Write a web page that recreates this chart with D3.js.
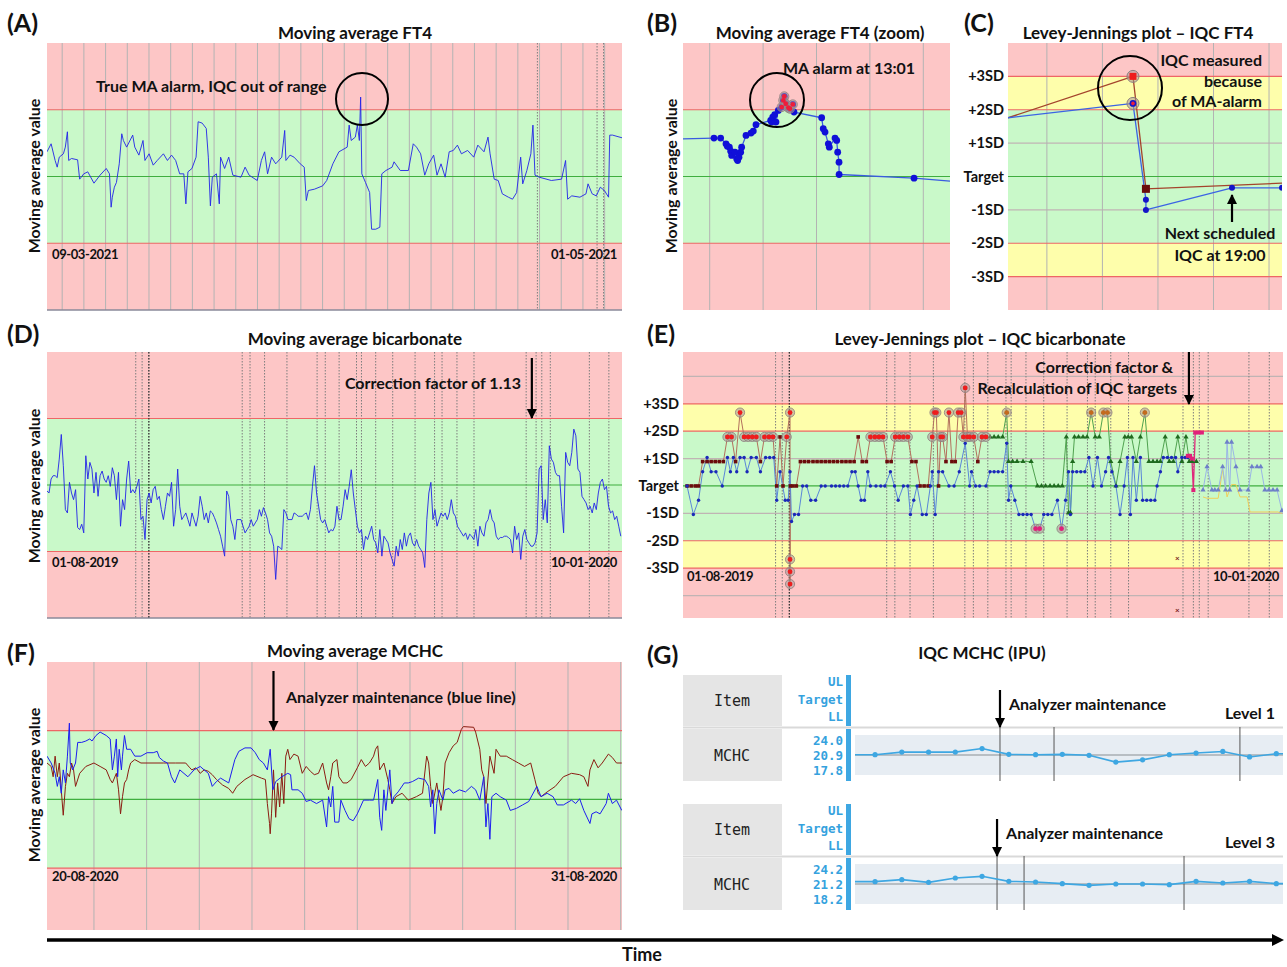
<!DOCTYPE html>
<html>
<head>
<meta charset="utf-8">
<script src="https://cdn.jsdelivr.net/npm/d3@7"></script>
<style>
  body { margin: 0; background: #fff; }
  svg text { font-family: Lato, "Open Sans", sans-serif; font-weight: bold; fill: #111; }
</style>
</head>
<body>
<svg id="fig" width="1287" height="967"></svg>
<script>
// ---------- data ----------
// (A) moving average FT4, [day since 09-03-2021, MA value relative to limits]
var ft4MA = [[0.0,0.37],[0.38,0.49],[0.75,0.24],[0.94,0.14],[1.13,0.29],[1.51,0.34],[1.69,0.44],[1.88,0.67],[2.0,0.24],[2.26,0.27],[2.82,0.25],[3.01,-0.04],[3.39,0.04],[3.76,0.07],[4.33,-0.1],[4.89,0.02],[5.46,0.12],[5.76,0.04],[5.91,-0.46],[6.02,-0.31],[6.21,-0.16],[6.4,-0.09],[6.66,0.19],[6.89,0.64],[7.04,0.54],[7.34,0.44],[7.9,0.62],[8.09,0.44],[8.47,0.32],[8.85,0.54],[9.03,0.24],[9.41,0.34],[9.79,0.17],[10.16,0.24],[10.73,0.34],[11.1,0.24],[11.48,0.32],[11.86,0.24],[12.23,0.04],[12.61,0.04],[12.8,-0.41],[12.99,0.07],[13.36,0.12],[13.74,0.29],[13.93,0.82],[14.3,0.8],[14.68,0.72],[14.87,0.29],[15.06,-0.44],[15.24,-0.01],[15.62,0.04],[15.88,-0.41],[16.0,0.29],[16.37,0.12],[16.75,0.29],[17.13,0.02],[17.88,-0.01],[18.26,0.14],[18.63,0.02],[19.38,-0.06],[19.76,0.24],[20.06,0.37],[20.33,0.04],[20.7,0.29],[21.08,0.19],[21.64,0.29],[21.91,0.69],[22.02,0.24],[22.4,0.32],[22.77,0.29],[23.34,0.19],[23.71,0.14],[23.9,-0.36],[24.09,-0.21],[24.65,-0.19],[25.41,-0.14],[25.78,-0.06],[26.35,0.19],[26.91,0.37],[27.67,0.44],[27.85,0.77],[28.04,0.54],[28.42,0.59],[28.61,0.77],[28.79,0.54],[28.91,1.19],[29.02,0.04],[29.36,-0.09],[29.74,-0.24],[29.92,-0.79],[30.3,-0.79],[30.68,-0.76],[30.86,0.04],[31.24,0.09],[31.81,0.14],[31.99,0.22],[32.56,0.09],[33.31,0.09],[33.76,0.49],[34.06,0.44],[34.44,0.34],[34.82,0.02],[35.19,0.19],[35.64,0.32],[35.95,0.02],[36.32,0.19],[36.7,-0.01],[37.07,0.37],[37.45,0.39],[37.83,0.47],[38.2,0.34],[38.77,0.39],[39.33,0.29],[39.71,0.47],[40.28,0.37],[40.65,0.59],[40.84,0.34],[41.22,-0.04],[41.59,-0.06],[41.97,-0.26],[42.53,-0.31],[42.91,-0.34],[43.29,-0.24],[43.66,0.29],[43.85,-0.11],[44.23,0.09],[44.6,0.34],[44.79,0.77],[44.98,0.02],[45.36,-0.01],[46.49,-0.06],[47.43,-0.04],[47.8,0.24],[47.99,-0.34],[48.37,-0.29],[49.12,-0.31],[49.68,-0.26],[49.87,-0.11],[50.25,-0.26],[50.63,-0.29],[51.0,-0.16],[51.38,-0.21],[51.76,-0.31],[51.87,0.62],[52.13,0.62],[53.0,0.58]];
var ft4Events = [45.2, 50.7, 51.3];

// (B) zoom, [minutes from start of window, MA value]
var ft4Zoom = [[0,0.565],[34.8,0.575],[42.3,0.575],[48.3,0.49],[49.8,0.455],[52.1,0.44],[53.6,0.38],[54.7,0.315],[58.4,0.365],[60.3,0.265],[61.4,0.24],[62.9,0.29],[64.8,0.365],[65.9,0.44],[70.8,0.615],[76.4,0.65],[79.0,0.68],[82.0,0.775],[98.5,0.84],[99.7,0.815],[100.8,0.89],[103.0,0.925],[104.5,0.815],[107.1,0.99],[110.9,1.04],[112.7,1.14],[113.8,1.2],[115.4,1.09],[118.4,1.03],[120.2,1.015],[123.3,1.08],[124.7,0.965],[155.8,0.88],[157.6,0.715],[159.6,0.665],[163.3,0.49],[164.4,0.44],[170.8,0.575],[172.7,0.54],[173.8,0.365],[175.3,0.215],[175.4,0.03],[259.6,-0.025],[300,-0.07]];

// (C) Levey-Jennings FT4, [hour of day, SD]
var ft4IqcLow  = [[6.9,1.76],[13.65,2.19],[14.35,-0.7],[14.35,-1.0],[19.0,-0.34],[21.7,-0.34]];
var ft4IqcHigh = [[6.9,1.76],[13.65,3.0],[14.35,-0.37],[21.7,-0.2]];

// (D) moving average bicarbonate, one value every 0.575 day from 01-08-2019
var bicStepDays = 0.5753;
var bicMA = [-0.09,-0.12,0.09,0.14,0.14,0.11,0.39,0.76,0.29,-0.37,
  -0.42,0.04,-0.12,-0.22,-0.07,-0.64,-0.67,-0.59,-0.72,0.44,
  0.09,0.34,0.24,-0.12,0.19,-0.17,0.14,0.21,0.09,0.04,
  0.14,-0.02,0.26,0.14,-0.22,0.19,-0.62,-0.22,-0.37,0.09,
  0.36,-0.12,-0.07,-0.12,-0.02,0.09,-0.52,-0.47,-0.82,-0.22,
  -0.12,-0.27,-0.07,-0.02,-0.22,-0.17,-0.37,-0.52,-0.32,-0.12,
  -0.17,0.04,-0.62,-0.37,0.24,-0.32,-0.52,-0.47,-0.42,-0.52,
  -0.62,-0.42,-0.52,-0.62,-0.47,-0.17,-0.32,-0.52,-0.42,-0.57,
  -0.39,-0.42,-0.49,-0.57,-0.67,-0.77,-0.92,-1.07,-0.09,-0.17,
  -0.52,-0.62,-0.82,-0.52,-0.52,-0.52,-0.62,-0.72,-0.67,-0.62,
  -0.52,-0.62,-0.57,-0.52,-0.37,-0.47,-0.34,-0.42,-0.52,-0.72,
  -0.77,-0.92,-1.42,-0.92,-0.94,-0.97,-0.37,-0.42,-0.52,-0.52,
  -0.52,-0.42,-0.44,-0.47,-0.47,-0.47,-0.44,-0.42,-0.52,-0.37,
  -0.02,0.29,-0.12,-0.32,-0.52,-0.57,-0.52,-0.62,-0.72,-0.67,
  -0.69,-0.62,-0.32,-0.52,-0.52,-0.32,-0.07,-0.22,-0.02,0.23,
  -0.12,-0.37,-0.62,-0.72,-0.67,-0.97,-0.77,-0.82,-0.72,-0.62,
  -0.82,-0.87,-1.02,-0.67,-1.07,-0.77,-0.82,-0.87,-1.02,-1.12,
  -1.22,-0.92,-1.07,-0.82,-0.97,-0.72,-0.92,-0.77,-0.72,-0.87,
  -0.92,-0.82,-0.92,-0.97,-1.02,-1.24,-0.52,-0.12,0.04,-0.52,
  -0.37,-0.62,-0.52,-0.42,-0.47,-0.42,-0.52,-0.42,-0.22,-0.42,
  -0.47,-0.62,-0.67,-0.72,-0.77,-0.72,-0.82,-0.74,-0.77,-0.82,
  -0.67,-0.92,-0.62,-0.72,-0.77,-0.57,-0.52,-0.37,-0.52,-0.57,
  -0.77,-0.82,-0.79,-0.79,-0.77,-0.77,-0.79,-0.82,-1.02,-0.62,
  -0.82,-0.72,-1.12,-0.77,-0.67,-0.82,-0.87,-0.92,-0.92,-0.87,
  -0.72,0.24,0.29,-0.52,-0.22,-0.57,0.59,0.39,0.34,0.19,
  0.14,0.14,-0.32,-0.72,0.49,0.34,0.29,0.49,0.84,0.74,
  0.24,0.19,-0.17,-0.22,-0.27,-0.37,-0.32,-0.42,-0.27,-0.37,
  -0.12,0.04,0.09,-0.07,-0.02,-0.32,-0.42,-0.39,-0.52,-0.47,
  -0.62,-0.77];
// events (days from 01-08-2019) shared by D and E
var bicEvents = [25, 26.8, 28.7, 55, 57.2, 61.3, 67.6, 76.1, 78.4, 82.3, 87.2, 88.6, 92.6, 97.4, 103.7, 109.2, 111.3, 115.5, 120.3, 135, 137.8, 139.4, 141.8, 152.8, 158.3];
var bicCorrectionDay = 136.6;

// (E) Levey-Jennings bicarbonate, [day, SD]
var bicIqcLow = [[1.1,0],[2.8,-1.04],[4.2,-0.52],[5.3,0.52],[6.5,1.04],[7.6,0.52],[8.9,0.52],[10.6,0],[12.0,1.04],[12.8,0.52],[13.6,1.04],[14.5,0.52],[15.4,1.04],[16.5,1.04],[17.3,0.52],[18.4,1.04],[19.8,1.04],[20.9,0.52],[22.3,1.04],[23.4,1.04],[24.5,1.04],[25.3,-0.52],[26.2,0.52],[27.6,-0.52],[28.4,-0.52],[28.9,0.52],[29.3,-1.3],[30.1,-1.04],[31.2,-1.04],[32.3,0],[33.4,0],[34.5,-0.52],[35.8,-0.52],[37.3,0],[38.4,0],[40.1,0],[41.2,0],[42.3,0],[43.4,0],[44.5,0],[45.6,0.52],[46.5,0.52],[47.3,0],[48.1,-0.52],[49.0,-0.52],[49.9,0.52],[50.6,0],[52.1,0],[53.4,0],[54.5,0],[56.0,0.52],[57.1,0],[58.1,-0.52],[59.5,0],[60.7,0],[61.4,-1.04],[62.3,-0.52],[63.2,0],[64.6,-1.04],[65.7,-1.04],[66.8,0],[67.3,0.52],[68.1,-1.04],[69.0,0.52],[70.1,0.52],[71.8,0],[73.2,0],[74.6,0.52],[76.2,1.56],[77.4,0],[77.9,0.52],[79.0,0],[80.1,0],[81.8,0],[82.9,0.52],[84.0,0.52],[85.1,0.52],[86.3,0.52],[87.4,1.56],[87.9,-0.52],[88.5,0],[89.6,-0.52],[90.7,-1.04],[91.8,-1.04],[92.9,-1.04],[94.0,-1.04],[95.2,-1.56],[96.3,-1.56],[97.4,-1.04],[98.5,-1.04],[99.6,-1.04],[101.1,-0.52],[102.2,-1.56],[103.3,-0.52],[104.1,0.52],[104.6,-1.04],[105.2,0.52],[106.3,0.52],[107.4,0.52],[108.5,0.52],[109.6,1.04],[110.7,0],[111.9,1.04],[113.0,0],[114.1,0.52],[114.9,1.04],[115.8,0.52],[116.9,0],[118.0,-1.04],[119.1,0],[120.0,1.04],[120.8,-1.04],[121.5,1.04],[122.4,-0.52],[123.5,1.04],[124.1,-0.52],[125.2,-0.52],[126.3,-0.52],[127.4,-0.52],[128.0,0],[128.9,0.52],[129.7,1.04],[130.8,1.04],[131.9,1.04],[133.0,1.04],[133.6,0.52],[134.7,1.04],[135.6,1.04],[136.3,1.04]];
var bicIqcHigh = [[1.1,0],[2.2,0],[3.3,0],[4.2,0],[5.3,0.89],[6.5,0.89],[7.6,0.89],[8.7,0.89],[9.8,0.89],[10.9,0.89],[12.0,1.79],[13.1,1.79],[14.2,0.89],[15.4,2.68],[16.5,1.79],[17.6,1.79],[18.7,1.79],[19.8,1.79],[20.9,0.89],[22.0,1.79],[23.2,1.79],[24.3,1.79],[25.3,0],[26.2,1.79],[27.0,0],[28.0,1.79],[28.9,2.68],[28.9,-2.68],[28.9,-3.13],[28.9,-3.58],[29.0,0],[29.7,0],[30.6,0],[31.7,0.89],[32.8,0.89],[33.9,0.89],[35.1,0.89],[36.2,0.89],[37.3,0.89],[38.4,0.89],[39.5,0.89],[40.6,0.89],[41.7,0.89],[42.9,0.89],[44.0,0.89],[45.1,0.89],[46.2,0.89],[47.3,1.79],[48.4,0.89],[49.5,0.89],[50.6,1.79],[51.8,1.79],[52.9,1.79],[54.0,1.79],[55.1,0.89],[56.2,0.89],[57.3,1.79],[58.4,1.79],[59.5,1.79],[60.7,1.79],[61.8,0.89],[62.9,0.89],[64.0,0],[65.1,0],[66.2,0],[67.3,1.79],[67.9,2.68],[68.4,2.68],[69.0,0],[69.6,1.79],[70.1,1.79],[71.0,0.89],[71.8,2.68],[72.6,0.89],[73.5,0.89],[74.3,2.68],[75.1,2.68],[75.7,1.79],[76.2,3.58],[76.8,1.79],[77.4,1.79],[78.5,1.79],[79.6,0.89],[80.7,1.79],[81.8,1.79]];
var bicIqcHigh2 = [[82.9,1.79],[84.0,1.79],[85.1,1.79],[86.3,1.79],[87.4,2.68],[87.9,0.89],[89.0,0.89],[90.2,0.89],[91.8,0.89],[94.0,0.89],[95.7,0],[96.8,0],[97.9,0],[99.1,0],[100.2,0],[101.3,0],[102.4,0],[103.5,1.79],[104.1,-0.98],[104.6,-0.98],[105.2,0.89],[105.7,1.79],[106.8,1.79],[108.0,1.79],[109.1,1.79],[110.2,2.68],[111.3,1.79],[112.4,1.79],[113.5,2.68],[114.6,2.68],[115.5,0.89],[116.9,0],[118.0,0.89],[119.3,1.79],[120.2,1.79],[121.1,1.79],[122.4,0.89],[123.5,1.79],[124.7,2.68],[125.8,0.89],[126.9,0.89],[128.0,0.89],[128.9,0.89],[130.2,1.79],[131.3,0.89],[132.4,0.89],[133.6,1.79],[134.7,0.89],[135.8,1.79],[136.7,0.89],[137.4,0.89],[138.6,0.89]];
var bicIqcNew = [[136.3,1.1],[136.9,1.1],[137.4,1.0],[137.8,-0.15],[138.3,1.95],[139.2,1.95],[140.1,1.95]];
var bicIqcAfter = [[140.4,-0.15],[141.5,0.7],[142.8,-0.15],[143.6,-0.15],[144.5,-0.15],[145.7,0.7],[146.5,-0.15],[146.9,1.6],[147.6,-0.15],[148.1,1.6],[149.3,0.7],[150.4,-0.15],[152.6,-0.15],[153.6,0.7],[155.0,0.7],[156.0,0.7],[157.1,-0.15],[158.2,-0.15],[159.3,-0.15],[160.4,-0.15],[161.7,-0.9]];
var bicIqcAfter2 = [[140.4,-0.4],[141.5,-0.45],[144.5,-0.45],[145.7,0.6],[146.9,-0.4],[148.1,0.05],[149.3,0.05],[150.4,-0.4],[152.3,-0.4],[153.1,-0.95],[160.6,-0.95],[161.7,-1.0]];
var bicRejected = [[133.5,-2.62],[133.5,-4.52]];

// (F) moving average MCHC, [hour since start of 20-08-2020 window, MA value]
var mchcMA1 = [[0.0,0.63],[1.9,0.53],[3.7,0.38],[4.7,0.19],[5.6,0.33],[6.5,0.09],[7.4,0.43],[8.4,0.24],[9.3,0.63],[10.2,1.11],[10.6,0.53],[11.7,0.43],[13.0,0.53],[14.0,0.83],[15.8,0.83],[17.7,0.85],[19.5,0.88],[20.5,0.85],[22.3,0.93],[24.2,0.98],[27.0,0.93],[28.8,0.88],[29.8,0.43],[30.7,0.63],[31.6,0.88],[32.2,0.33],[32.9,0.73],[33.9,0.43],[34.4,0.63],[35.3,0.93],[36.3,0.73],[38.1,0.73],[40.0,0.63],[42.8,0.63],[45.6,0.68],[48.4,0.68],[50.2,0.7],[51.2,0.61],[53.0,0.56],[54.9,0.53],[56.7,0.33],[58.2,0.24],[60.5,0.43],[64.2,0.33],[67.0,0.43],[69.8,0.48],[71.6,0.43],[73.5,0.38],[75.3,0.19],[77.2,0.26],[79.1,0.31],[82.8,0.24],[85.6,0.58],[87.4,0.7],[90.2,0.75],[93.0,0.75],[94.9,0.68],[96.7,0.58],[98.6,0.53],[100.4,0.43],[101.7,0.73],[102.9,0.14],[104.2,0.26],[107.0,0.33],[109.7,0.38],[111.0,0.36],[111.6,0.14],[114.4,0.14],[116.3,0.09],[118.1,-0.03],[120.0,-0.01],[122.8,-0.06],[125.6,-0.01],[127.4,-0.4],[128.3,0.04],[129.3,-0.11],[130.2,0.19],[131.1,-0.33],[133.0,-0.33],[133.9,-0.01],[135.8,-0.16],[137.6,-0.28],[139.5,-0.31],[141.4,-0.21],[144.2,-0.01],[146.9,-0.01],[148.8,-0.01],[150.7,0.29],[151.6,-0.26],[152.5,-0.45],[153.5,0.14],[154.4,-0.16],[156.2,0.43],[157.2,-0.06],[158.1,0.04],[160.0,0.11],[162.8,0.24],[164.6,0.24],[166.5,0.26],[169.3,0.31],[172.1,0.29],[173.9,0.19],[174.8,-0.11],[175.8,0.14],[176.7,-0.5],[177.6,-0.06],[178.6,0.14],[180.4,-0.01],[181.4,0.14],[183.2,0.16],[185.1,0.09],[187.9,0.14],[190.7,0.11],[193.4,0.19],[195.3,0.14],[197.2,-0.01],[199.0,0.33],[200.0,-0.4],[200.9,-0.06],[201.8,-0.58],[202.7,0.04],[204.6,0.09],[206.5,0.04],[209.3,-0.01],[211.1,-0.16],[213.9,-0.13],[216.7,-0.08],[219.5,-0.03],[223.2,0.19],[225.1,0.04],[227.9,0.09],[230.6,0.04],[232.5,-0.08],[235.3,-0.08],[239.0,-0.01],[240.9,-0.06],[242.7,0.01],[244.6,-0.16],[247.4,-0.35],[248.3,-0.21],[250.2,-0.18],[252.0,-0.21],[254.8,-0.06],[255.8,0.09],[257.6,-0.06],[259.5,-0.01],[261.9,-0.16]];
var mchcMA2 = [[0.0,0.53],[1.9,0.48],[2.8,0.33],[3.7,0.63],[4.7,0.33],[5.6,0.53],[6.5,0.14],[7.4,-0.23],[8.4,0.19],[9.3,0.38],[10.2,0.33],[11.2,0.53],[12.1,0.43],[13.0,0.19],[14.9,0.38],[17.7,0.48],[21.4,0.53],[24.2,0.48],[27.0,0.43],[28.8,0.29],[29.8,0.24],[31.6,0.38],[32.6,0.14],[33.5,-0.21],[34.4,0.04],[35.3,0.24],[36.3,0.29],[37.2,0.43],[38.1,0.53],[40.0,0.58],[42.8,0.53],[47.4,0.53],[53.0,0.53],[58.6,0.53],[63.2,0.53],[65.1,0.46],[66.0,0.43],[67.9,0.46],[69.8,0.38],[71.6,0.43],[73.5,0.41],[75.3,0.36],[77.2,0.29],[80.0,0.21],[82.8,0.16],[84.6,0.09],[86.5,0.19],[90.2,0.29],[93.9,0.36],[97.7,0.31],[99.5,0.29],[100.4,-0.06],[101.4,-0.35],[101.7,-0.5],[102.3,-0.21],[103.2,0.43],[104.2,-0.26],[105.1,0.24],[106.0,-0.11],[107.0,0.38],[107.9,-0.06],[108.8,0.63],[109.7,0.73],[110.7,0.58],[112.5,0.66],[114.4,0.63],[116.3,0.38],[118.1,0.48],[120.0,0.41],[121.8,0.36],[123.7,0.38],[125.6,0.53],[127.4,0.24],[128.3,0.14],[129.3,0.33],[130.2,0.53],[132.1,0.58],[133.0,0.33],[134.9,0.24],[136.7,0.24],[138.6,0.29],[141.4,0.46],[143.2,0.58],[145.1,0.48],[146.9,0.53],[148.8,0.63],[149.7,0.73],[150.7,0.78],[151.6,0.43],[153.5,0.53],[155.3,0.29],[156.2,0.14],[157.2,-0.06],[159.0,0.04],[161.8,0.09],[164.6,-0.01],[168.3,0.04],[171.1,0.09],[173.0,0.63],[173.9,0.53],[174.8,0.19],[175.8,-0.06],[177.6,0.24],[179.5,-0.16],[180.4,0.04],[181.4,0.53],[183.2,0.68],[185.1,0.78],[186.9,0.83],[188.8,1.02],[189.7,1.06],[194.4,1.05],[195.3,0.98],[197.2,0.73],[198.1,0.43],[199.0,0.33],[200.0,-0.06],[201.8,0.63],[203.7,0.38],[204.6,0.73],[206.5,0.63],[209.3,0.63],[212.0,0.58],[214.8,0.53],[217.6,0.48],[220.4,0.53],[222.3,0.29],[223.8,0.09],[225.1,0.04],[227.9,0.11],[231.6,0.19],[235.3,0.33],[239.0,0.38],[242.7,0.36],[244.6,0.33],[246.5,0.19],[247.4,0.43],[249.2,0.58],[251.1,0.46],[253.0,0.53],[255.8,0.66],[257.6,0.61],[259.5,0.53],[261.9,0.53]];
var mchcMaintenanceHour = 103.2;

// (G) IQC MCHC, run number and measured value
var iqcRuns = [1,2,3,4,5,6,7,8,9,10,11,12,13,14,15,16];
var mchcLevel1 = [20.95,21.35,21.35,21.35,21.9,21.0,20.95,21.0,20.85,19.8,20.15,20.95,21.2,21.45,20.6,21.1];
var mchcLevel3 = [21.55,21.85,21.45,22.1,22.35,21.6,21.5,21.25,21.0,21.2,21.2,21.1,21.6,21.35,21.6,21.25];
var mchcLevel1Limits = [24.0, 20.9, 17.8];
var mchcLevel3Limits = [24.2, 21.2, 18.2];
var mchcLevel1Events = [5.67, 7.69, 14.64];
var mchcLevel3Events = [5.56, 6.57, 12.55];

var sdTicks = [3, 2, 1, 0, -1, -2, -3];
var sdTickNames = ["+3SD", "+2SD", "+1SD", "Target", "-1SD", "-2SD", "-3SD"];

// ---------- drawing ----------
var PINK = "#fdc6c6", GREEN = "#c9f9c9", YELLOW = "#fefeab";
var LIMIT = "#ee6666", MID = "#3fae3f", GRID = "#b3b3b3";
var MONO = "'DejaVu Sans Mono', 'Liberation Mono', monospace";
var NOTE = 16, TITLE = 17, LETTER = 25;

var svg = d3.select("#fig");
var defs = svg.append("defs");
defs.append("marker")
  .attr("id", "head")
  .attr("viewBox", "0 0 10 10")
  .attr("refX", 9).attr("refY", 5)
  .attr("markerWidth", 10).attr("markerHeight", 11)
  .attr("markerUnits", "userSpaceOnUse")
  .attr("orient", "auto")
  .append("path").attr("d", "M0,0 L10,5 L0,10 z").attr("fill", "#000");

function text(x, y, s, size, anchor) {
  return svg.append("text")
    .attr("x", x).attr("y", y)
    .attr("font-size", size)
    .attr("text-anchor", anchor || "start")
    .text(s);
}

function dateText(x, y, s, anchor) {
  return text(x, y, s, 13, anchor).attr("letter-spacing", -0.4);
}

function arrowDown(x, y0, y1) {
  svg.append("line")
    .attr("x1", x).attr("x2", x).attr("y1", y0).attr("y2", y1)
    .attr("stroke", "#000").attr("stroke-width", 2.2)
    .attr("marker-end", "url(#head)");
}

function yLabel(x, y) {
  svg.append("text")
    .attr("transform", "translate(" + x + "," + y + ") rotate(-90)")
    .attr("text-anchor", "middle")
    .attr("font-size", 16)
    .text("Moving average value");
}

function plotClip(id, p) {
  defs.append("clipPath").attr("id", id)
    .append("rect")
    .attr("x", p.left).attr("y", p.top)
    .attr("width", p.right - p.left).attr("height", p.bottom - p.top);
}

function vLines(g, list, x, p, color, dash) {
  g.selectAll(null).data(list).enter().append("line")
    .attr("x1", d => x(d)).attr("x2", d => x(d))
    .attr("y1", p.top).attr("y2", p.bottom)
    .attr("stroke", color).attr("stroke-width", 1)
    .attr("stroke-dasharray", dash || null);
}

function hLine(g, y, p, color) {
  g.append("line")
    .attr("x1", p.left).attr("x2", p.right).attr("y1", y).attr("y2", y)
    .attr("stroke", color).attr("stroke-width", 1.2);
}

// moving-average panel: pink outside limits, green inside
function maPanel(p) {
  var x = d3.scaleLinear().domain(p.xDomain).range([p.left, p.right]);
  var y = d3.scaleLinear().domain(p.yDomain).range([p.bottom, p.top]);
  var g = svg.append("g");
  g.append("rect").attr("x", p.left).attr("y", p.top)
    .attr("width", p.right - p.left).attr("height", p.bottom - p.top).attr("fill", PINK);
  g.append("rect").attr("x", p.left).attr("y", y(1))
    .attr("width", p.right - p.left).attr("height", y(-1) - y(1)).attr("fill", GREEN);
  vLines(g, p.grid || [], x, p, GRID);
  vLines(g, p.events || [], x, p, "#7d7d7d", "1.5,1.5");
  hLine(g, y(1), p, LIMIT);
  hLine(g, y(-1), p, LIMIT);
  hLine(g, y(0), p, MID);
  if (p.bottomRule) {
    g.append("line").attr("x1", p.left).attr("x2", p.right)
      .attr("y1", p.bottom).attr("y2", p.bottom)
      .attr("stroke", "#8a8a9a").attr("stroke-width", 1.5);
  }
  plotClip("clip" + p.id, p);
  var plot = svg.append("g").attr("clip-path", "url(#clip" + p.id + ")");
  return { x: x, y: y, plot: plot };
}

// Levey-Jennings panel: zones by SD
function ljPanel(p) {
  var x = d3.scaleLinear().domain(p.xDomain).range([p.left, p.right]);
  var y = d3.scaleLinear().domain(p.yDomain).range([p.bottom, p.top]);
  var g = svg.append("g");
  var w = p.right - p.left;
  g.append("rect").attr("x", p.left).attr("y", p.top).attr("width", w).attr("height", p.bottom - p.top).attr("fill", PINK);
  g.append("rect").attr("x", p.left).attr("y", y(3)).attr("width", w).attr("height", y(-3) - y(3)).attr("fill", YELLOW);
  g.append("rect").attr("x", p.left).attr("y", y(2)).attr("width", w).attr("height", y(-2) - y(2)).attr("fill", GREEN);
  [1, -1, 4, -4].forEach(function (v) {
    if (v > p.yDomain[0] && v < p.yDomain[1]) hLine(g, y(v), p, "#c0b4b4");
  });
  vLines(g, p.grid || [], x, p, GRID);
  vLines(g, p.events || [], x, p, "#7d7d7d", "1.5,1.5");
  [3, 2, -2, -3].forEach(function (v) { hLine(g, y(v), p, LIMIT); });
  hLine(g, y(0), p, MID);
  g.selectAll(null).data(sdTicks).enter().append("text")
    .attr("x", p.left - 4).attr("y", d => y(d)).attr("dy", "0.35em")
    .attr("text-anchor", "end").attr("font-size", 14.5)
    .text((d, i) => sdTickNames[i]);
  plotClip("clip" + p.id, p);
  var plot = svg.append("g").attr("clip-path", "url(#clip" + p.id + ")");
  return { x: x, y: y, plot: plot };
}

function pathOf(plot, data, x, y, color, width) {
  plot.append("path").datum(data)
    .attr("fill", "none").attr("stroke", color).attr("stroke-width", width || 1)
    .attr("stroke-linejoin", "round")
    .attr("d", d3.line().x(d => x(d[0])).y(d => y(d[1])));
}

function flagRing(plot, pts, x, y, fill) {
  plot.selectAll(null).data(pts).enter().append("circle")
    .attr("cx", d => x(d[0])).attr("cy", d => y(d[1])).attr("r", 4.6)
    .attr("fill", "rgba(170,150,150,0.55)").attr("stroke", "#8d7f7f").attr("stroke-width", 0.8);
  plot.selectAll(null).data(pts).enter().append("circle")
    .attr("cx", d => x(d[0])).attr("cy", d => y(d[1])).attr("r", 2.4)
    .attr("fill", fill);
}

function symbols(plot, data, x, y, type, size, color) {
  plot.selectAll(null).data(data).enter().append("path")
    .attr("transform", d => "translate(" + x(d[0]) + "," + y(d[1]) + ")")
    .attr("d", d3.symbol().type(type).size(size))
    .attr("fill", color);
}

// ----- (A) -----
var pA = { id: "A", left: 47, right: 622, top: 43, bottom: 310, xDomain: [0, 53], yDomain: [-2, 2],
  grid: d3.range(1.4, 53, 2), events: ft4Events, bottomRule: true };
var A = maPanel(pA);
pathOf(A.plot, ft4MA, A.x, A.y, "#2323e8", 0.9);
text(7, 32, "(A)", LETTER);
text(355, 39, "Moving average FT4", TITLE, "middle");
yLabel(40, 176);
dateText(52, 259, "09-03-2021");
dateText(617, 259, "01-05-2021", "end");
text(96, 92, "True MA alarm, IQC out of range", NOTE);
svg.append("circle").attr("cx", 362).attr("cy", 99).attr("r", 26)
  .attr("fill", "none").attr("stroke", "#000").attr("stroke-width", 2);

// ----- (B) -----
var pB = { id: "B", left: 683, right: 950, top: 43, bottom: 310, xDomain: [0, 300], yDomain: [-2, 2],
  grid: [30, 90, 150, 210, 270] };
var B = maPanel(pB);
pathOf(B.plot, ft4Zoom, B.x, B.y, "#3a5be0", 1.3);
B.plot.selectAll(null).data(ft4Zoom.slice(1, -1)).enter().append("circle")
  .attr("cx", d => B.x(d[0])).attr("cy", d => B.y(d[1])).attr("r", 3.4)
  .attr("fill", "#1010d8");
flagRing(B.plot, ft4Zoom.filter(d => d[1] > 1), B.x, B.y, "#ee1d3a");
text(647, 32, "(B)", LETTER);
text(820, 39, "Moving average FT4 (zoom)", TITLE, "middle");
yLabel(677, 176);
text(783, 74, "MA alarm at 13:01", NOTE);
svg.append("circle").attr("cx", 777).attr("cy", 100).attr("r", 27)
  .attr("fill", "none").attr("stroke", "#000").attr("stroke-width", 2);

// ----- (C) -----
var pC = { id: "C", left: 1008, right: 1282, top: 43, bottom: 310, xDomain: [6.9, 21.7], yDomain: [-4, 4],
  grid: [9, 12, 15, 18, 21] };
var C = ljPanel(pC);
pathOf(C.plot, ft4IqcHigh, C.x, C.y, "#a4442c", 1.3);
pathOf(C.plot, ft4IqcLow, C.x, C.y, "#3c64e4", 1.3);
C.plot.selectAll(null).data(ft4IqcLow.slice(2)).enter().append("circle")
  .attr("cx", d => C.x(d[0])).attr("cy", d => C.y(d[1])).attr("r", 3)
  .attr("fill", "#1414c8");
C.plot.append("rect").attr("x", C.x(14.35) - 4).attr("y", C.y(-0.37) - 4).attr("width", 8).attr("height", 8)
  .attr("fill", "#6a0c0c");
C.plot.append("circle").attr("cx", C.x(13.65)).attr("cy", C.y(3.0)).attr("r", 6)
  .attr("fill", "rgba(170,150,150,0.55)").attr("stroke", "#8d7f7f");
C.plot.append("rect").attr("x", C.x(13.65) - 3.5).attr("y", C.y(3.0) - 3.5).attr("width", 7).attr("height", 7)
  .attr("fill", "#ee1d1d");
C.plot.append("circle").attr("cx", C.x(13.65)).attr("cy", C.y(2.19)).attr("r", 6)
  .attr("fill", "rgba(170,150,150,0.55)").attr("stroke", "#8d7f7f");
C.plot.append("circle").attr("cx", C.x(13.65)).attr("cy", C.y(2.19)).attr("r", 3.4).attr("fill", "#1414c8");
C.plot.append("circle").attr("cx", C.x(13.65)).attr("cy", C.y(2.19)).attr("r", 1.8).attr("fill", "#ee1d3a");
text(964, 32, "(C)", LETTER);
text(1138, 39, "Levey-Jennings plot \u2013 IQC FT4", TITLE, "middle");
text(1262, 66, "IQC measured", NOTE, "end");
text(1262, 87, "because", NOTE, "end");
text(1262, 107, "of MA-alarm", NOTE, "end");
svg.append("circle").attr("cx", 1130).attr("cy", 88).attr("r", 32)
  .attr("fill", "none").attr("stroke", "#000").attr("stroke-width", 2);
svg.append("line").attr("x1", C.x(19.0)).attr("x2", C.x(19.0)).attr("y1", 222).attr("y2", 195)
  .attr("stroke", "#000").attr("stroke-width", 2.2).attr("marker-end", "url(#head)");
text(1220, 239, "Next scheduled", NOTE, "middle");
text(1220, 261, "IQC at 19:00", NOTE, "middle");

// ----- (D) -----
var pD = { id: "D", left: 47, right: 622, top: 352, bottom: 618, xDomain: [0, 162], yDomain: [-2, 2],
  events: bicEvents, bottomRule: true };
var D = maPanel(pD);
D.plot.append("line").attr("x1", D.x(28.7)).attr("x2", D.x(28.7)).attr("y1", pD.top).attr("y2", pD.bottom)
  .attr("stroke", "#222").attr("stroke-width", 1).attr("stroke-dasharray", "1.5,1.5");
D.plot.append("path").datum(bicMA)
  .attr("fill", "none").attr("stroke", "#2323e8").attr("stroke-width", 0.9).attr("stroke-linejoin", "round")
  .attr("d", d3.line().x((d, i) => D.x(i * bicStepDays)).y(d => D.y(d)));
text(7, 343, "(D)", LETTER);
text(355, 345, "Moving average bicarbonate", TITLE, "middle");
yLabel(40, 486);
dateText(52, 567, "01-08-2019");
dateText(617, 567, "10-01-2020", "end");
text(521, 389, "Correction factor of 1.13", NOTE, "end");
arrowDown(D.x(bicCorrectionDay), 358, 418);

// ----- (E) -----
var pE = { id: "E", left: 683, right: 1283, top: 352, bottom: 618, xDomain: [0, 162], yDomain: [-4.82, 4.89],
  events: bicEvents };
var E = ljPanel(pE);
E.plot.append("line").attr("x1", E.x(28.7)).attr("x2", E.x(28.7)).attr("y1", pE.top).attr("y2", pE.bottom)
  .attr("stroke", "#222").attr("stroke-width", 1).attr("stroke-dasharray", "1.5,1.5");
pathOf(E.plot, bicIqcHigh, E.x, E.y, "#b3715d", 1);
pathOf(E.plot, bicIqcHigh2, E.x, E.y, "#4fa24f", 1);
pathOf(E.plot, bicIqcLow, E.x, E.y, "#5a86d8", 1);
pathOf(E.plot, bicIqcAfter2, E.x, E.y, "#f2cf5a", 1);
pathOf(E.plot, bicIqcAfter, E.x, E.y, "#9ab6e6", 1);
pathOf(E.plot, bicIqcNew, E.x, E.y, "#e0287c", 1.3);
E.plot.selectAll(null).data(bicIqcHigh).enter().append("rect")
  .attr("x", d => E.x(d[0]) - 1.8).attr("y", d => E.y(d[1]) - 1.8)
  .attr("width", 3.6).attr("height", 3.6).attr("fill", "#6a0c0c");
symbols(E.plot, bicIqcHigh2, E.x, E.y, d3.symbolTriangle, 12, "#1f6a1f");
E.plot.selectAll(null).data(bicIqcLow).enter().append("circle")
  .attr("cx", d => E.x(d[0])).attr("cy", d => E.y(d[1])).attr("r", 1.7).attr("fill", "#1a28b8");
symbols(E.plot, bicIqcAfter, E.x, E.y, d3.symbolTriangle, 12, "#6d7fc8");
E.plot.selectAll(null).data(bicIqcNew).enter().append("rect")
  .attr("x", d => E.x(d[0]) - 2).attr("y", d => E.y(d[1]) - 2)
  .attr("width", 4).attr("height", 4).attr("fill", "#e0207a");
// flagged results (Westgard rule violations)
var highFlags = bicIqcHigh.filter(function (d, i, a) {
  if (Math.abs(d[1]) >= 2.5) return true;
  var prev = a[i - 1], next = a[i + 1];
  return d[1] >= 1.7 && ((prev && prev[1] >= 1.7) || (next && next[1] >= 1.7));
});
flagRing(E.plot, highFlags, E.x, E.y, "#ee1d1d");
flagRing(E.plot, bicIqcHigh2.filter(d => d[1] >= 2.5), E.x, E.y, "#c46a1d");
flagRing(E.plot, bicIqcLow.filter(d => d[1] <= -1.5), E.x, E.y, "#e0207a");
E.plot.selectAll(null).data(bicRejected).enter().append("text")
  .attr("x", d => E.x(d[0])).attr("y", d => E.y(d[1])).attr("dy", "0.35em")
  .attr("text-anchor", "middle").attr("font-size", 8).style("fill", "#7a1a1a").text("\u00d7");
text(647, 343, "(E)", LETTER);
text(980, 345, "Levey-Jennings plot \u2013 IQC bicarbonate", TITLE, "middle");
dateText(687, 581, "01-08-2019");
dateText(1279, 581, "10-01-2020", "end");
text(1173, 373, "Correction factor &", NOTE, "end");
text(1177, 394, "Recalculation of IQC targets", NOTE, "end");
arrowDown(E.x(bicCorrectionDay), 352, 404);

// ----- (F) -----
var pF = { id: "F", left: 47, right: 622, top: 662, bottom: 930, xDomain: [0, 262], yDomain: [-1.9, 2.0],
  grid: d3.range(21.4, 263, 24) };
var F = maPanel(pF);
pathOf(F.plot, mchcMA2, F.x, F.y, "#8b1c12", 1);
pathOf(F.plot, mchcMA1, F.x, F.y, "#1d1df0", 1);
text(7, 662, "(F)", LETTER);
text(355, 657, "Moving average MCHC", TITLE, "middle");
yLabel(40, 785);
dateText(52, 881, "20-08-2020");
dateText(617, 881, "31-08-2020", "end");
text(286, 703, "Analyzer maintenance (blue line)", NOTE);
arrowDown(F.x(mchcMaintenanceHour), 671, 730);

// ----- (G) -----
text(647, 664, "(G)", LETTER);
text(982, 659, "IQC MCHC (IPU)", TITLE, "middle");

function iqcBlock(top, limits, values, events, levelName, arrowRun) {
  var rowTop = top + 54;
  var g = svg.append("g");
  var x = d3.scaleLinear().domain([0.25, 16.25]).range([855, 1283]);
  var y = d3.scaleLinear().domain([limits[2], limits[0]]).range([rowTop + 46, rowTop + 6]);
  g.append("rect").attr("x", 683).attr("y", top).attr("width", 99).attr("height", 51).attr("fill", "#e5e5e5");
  g.append("rect").attr("x", 683).attr("y", rowTop).attr("width", 99).attr("height", 52).attr("fill", "#e5e5e5");
  g.append("line").attr("x1", 683).attr("x2", 1283).attr("y1", top + 52.5).attr("y2", top + 52.5)
    .attr("stroke", "#d9d9d9").attr("stroke-width", 2);
  g.append("rect").attr("x", 846).attr("y", top).attr("width", 5).attr("height", 51).attr("fill", "#3ea7e2");
  g.append("rect").attr("x", 846).attr("y", rowTop).attr("width", 5).attr("height", 52).attr("fill", "#3ea7e2");
  g.append("text").attr("x", 732).attr("y", top + 26).attr("dy", "0.35em").attr("text-anchor", "middle")
    .attr("font-size", 15).style("font-family", MONO).style("font-weight", "normal").style("fill", "#222").text("Item");
  g.append("text").attr("x", 732).attr("y", rowTop + 27).attr("dy", "0.35em").attr("text-anchor", "middle")
    .attr("font-size", 15).style("font-family", MONO).style("font-weight", "normal").style("fill", "#222").text("MCHC");
  g.selectAll(null).data(["UL", "Target", "LL"]).enter().append("text")
    .attr("x", 843).attr("y", (d, i) => top + 7 + i * 17.5).attr("dy", "0.35em").attr("text-anchor", "end")
    .attr("font-size", 12.5).style("font-family", MONO).style("fill", "#35a2de").text(d => d);
  g.selectAll(null).data(limits).enter().append("text")
    .attr("x", 843).attr("y", (d, i) => rowTop + 12 + i * 15).attr("dy", "0.35em").attr("text-anchor", "end")
    .attr("font-size", 12.5).style("font-family", MONO).style("fill", "#35a2de").text(d => d.toFixed(1));
  g.append("rect").attr("x", 855).attr("y", y(limits[0])).attr("width", 428)
    .attr("height", y(limits[2]) - y(limits[0])).attr("fill", "#e7edf3");
  g.append("line").attr("x1", 855).attr("x2", 1283).attr("y1", y(limits[1])).attr("y2", y(limits[1]))
    .attr("stroke", "#a9aeb3").attr("stroke-width", 1.5);
  g.selectAll(null).data(events).enter().append("line")
    .attr("x1", d => x(d)).attr("x2", d => x(d)).attr("y1", top + 52).attr("y2", rowTop + 52)
    .attr("stroke", "#555").attr("stroke-width", 1);
  var pts = iqcRuns.map((r, i) => [r, values[i]]);
  g.append("path").datum([[0.25, pts[0][1]]].concat(pts).concat([[16.25, pts[15][1]]]))
    .attr("fill", "none").attr("stroke", "#3ea7e2").attr("stroke-width", 1.6)
    .attr("d", d3.line().x(d => x(d[0])).y(d => y(d[1])));
  g.selectAll(null).data(pts).enter().append("circle")
    .attr("cx", d => x(d[0])).attr("cy", d => y(d[1])).attr("r", 2.6).attr("fill", "#3ea7e2");
  arrowDown(x(arrowRun), top + 15, top + 52);
  text(x(arrowRun) + 9, top + 35, "Analyzer maintenance", NOTE);
  text(1275, top + 44, levelName, NOTE, "end");
}
iqcBlock(675, mchcLevel1Limits, mchcLevel1, mchcLevel1Events, "Level 1", mchcLevel1Events[0]);
iqcBlock(804, mchcLevel3Limits, mchcLevel3, mchcLevel3Events, "Level 3", mchcLevel3Events[0]);

// ----- time axis -----
svg.append("line").attr("x1", 47).attr("x2", 1274).attr("y1", 940).attr("y2", 940)
  .attr("stroke", "#000").attr("stroke-width", 3.5);
svg.append("path").attr("d", "M1272,934 L1284,940 L1272,946 z").attr("fill", "#000");
text(642, 961, "Time", 18, "middle");
</script>
</body>
</html>
